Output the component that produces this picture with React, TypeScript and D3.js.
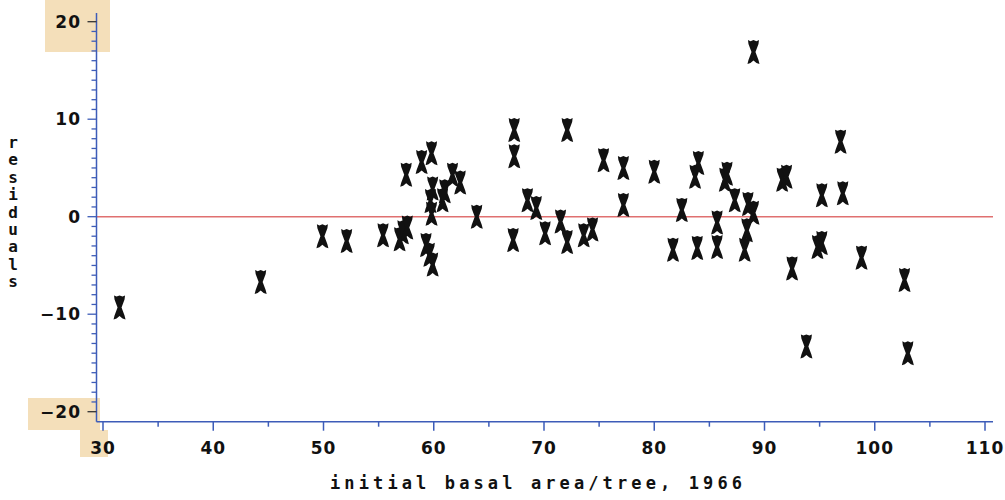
import React from "react";
import * as d3 from "d3";

const xValues: number[] = [
  31.5, 44.3, 49.9, 52.1, 55.4, 56.9, 57.2, 57.6, 57.5, 58.9,
  59.8, 59.9, 59.7, 59.8, 59.3, 59.6, 59.9, 61.0, 60.8, 61.7,
  62.4, 63.9, 67.3, 67.3, 67.2, 68.5, 69.3, 70.1, 71.5, 72.1,
  72.1, 73.6, 74.4, 75.4, 77.2, 77.2, 80.0, 82.5, 81.7, 83.9,
  83.7, 84.0, 85.7, 85.7, 86.4, 86.6, 87.3, 88.5, 89.0, 88.4,
  88.2, 89.0, 91.6, 92.0, 92.5, 93.8, 94.8, 95.2, 95.2, 96.9,
  97.1, 98.8, 102.7, 103.0,
];
const residuals: number[] = [
  -9.3, -6.7, -2.0, -2.5, -1.9, -2.3, -1.6, -1.1, 4.3, 5.6,
  6.5, 2.9, 1.6, 0.3, -2.9, -3.9, -4.9, 2.6, 1.7, 4.3,
  3.5, 0.0, 8.9, 6.2, -2.4, 1.7, 0.9, -1.7, -0.5, -2.6,
  8.9, -1.9, -1.3, 5.8, 5.0, 1.2, 4.6, 0.7, -3.4, -3.2,
  4.1, 5.5, -0.6, -3.1, 3.8, 4.4, 1.7, 1.3, 0.4, -1.4,
  -3.4, 16.9, 3.8, 4.1, -5.3, -13.3, -3.1, -2.7, 2.2, 7.7,
  2.4, -4.2, -6.5, -14.0,
];
const xTickLabels: number[] = [30, 40, 50, 60, 70, 80, 90, 100, 110];
const yTickLabels: number[] = [-20, -10, 0, 10, 20];
const yAxisLabel = "residuals";
const xAxisLabel = "initial basal area/tree, 1966";

const W = 1005;
const H = 500;

const x = d3.scaleLinear().domain([30, 110]).range([103, 985]);
const y = d3.scaleLinear().domain([-20, 20]).range([411.7, 21.7]);

const xDomainEnd = x.invert(993);
const xDomainStart = x.invert(96.5);
const yTop = y.invert(13);
const yBottom = y.invert(421.7);

const AXIS = "#3d5cb8";
const marker =
  "M-5.5,-12 L-3,-10.8 L0,-12 L3,-10.8 L5.5,-12 L5,-8 L2,0 L5,8 L6,12 L3,11 L0,8.5 L-3,11 L-6,12 L-5,8 L-2,0 L-5,-8 Z";

export default function App() {
  const minorY = d3.range(-20, 21, 1);
  const minorX = d3.range(35, 110, 10);
  const axisX0 = x(xDomainStart);
  const axisX1 = x(xDomainEnd);
  const axisYTop = y(yTop);
  const axisYBottom = y(yBottom);
  const pts = xValues.map((v, i) => [v, residuals[i]]);
  const labelFont = "'DejaVu Sans', 'Liberation Sans', sans-serif";
  return (
    <svg
      width={W}
      height={H}
      style={{ position: "absolute", left: 0, top: 0, background: "#fff" }}
    >
      {/* scan smudges */}
      <rect x={45} y={0} width={65} height={52} fill="#ecc98c" opacity={0.6} />
      <rect x={28} y={398} width={72} height={32} fill="#ecc98c" opacity={0.6} />
      <rect x={80} y={430} width={28} height={27} fill="#ecc98c" opacity={0.6} />

      {/* zero line */}
      <line
        x1={axisX0}
        x2={axisX1}
        y1={y(0)}
        y2={y(0)}
        stroke="#e07070"
        strokeWidth={1.6}
      />

      {/* y axis */}
      <line x1={axisX0} x2={axisX0} y1={axisYTop} y2={axisYBottom} stroke={AXIS} strokeWidth={1.5} />
      {minorY.map((v) => (
        <line
          key={"yt" + v}
          x1={axisX0 - (v % 10 === 0 ? 9 : 5)}
          x2={axisX0}
          y1={y(v)}
          y2={y(v)}
          stroke={v % 10 === 0 && Math.abs(v) === 20 ? "#333" : AXIS}
          strokeWidth={1.3}
        />
      ))}
      {yTickLabels.map((v) => (
        <text
          key={"yl" + v}
          x={81}
          y={y(v)}
          dy="0.36em"
          textAnchor="end"
          fontFamily={labelFont}
          fontWeight="bold"
          fontSize={17}
          letterSpacing={1}
          fill="#111"
        >
          {v < 0 ? "\u2212" + Math.abs(v) : String(v)}
        </text>
      ))}

      {/* x axis */}
      <line x1={axisX0} x2={axisX1} y1={axisYBottom} y2={axisYBottom} stroke={AXIS} strokeWidth={1.5} />
      {xTickLabels.map((v) => (
        <line
          key={"xt" + v}
          x1={x(v)}
          x2={x(v)}
          y1={axisYBottom}
          y2={axisYBottom + 9}
          stroke={AXIS}
          strokeWidth={1.5}
        />
      ))}
      {minorX.map((v) => (
        <line
          key={"xm" + v}
          x1={x(v)}
          x2={x(v)}
          y1={axisYBottom}
          y2={axisYBottom + 5}
          stroke={AXIS}
          strokeWidth={1.5}
        />
      ))}
      {xTickLabels.map((v) => (
        <text
          key={"xl" + v}
          x={x(v)}
          y={454}
          textAnchor="middle"
          fontFamily={labelFont}
          fontWeight="bold"
          fontSize={17}
          letterSpacing={1}
          fill="#111"
        >
          {String(v)}
        </text>
      ))}

      {/* axis titles */}
      <text
        x={330}
        y={489}
        textLength={412}
        lengthAdjust="spacing"
        fontFamily="'DejaVu Sans Mono', monospace"
        fontWeight="bold"
        fontSize={17}
        fill="#111"
      >
        {xAxisLabel}
      </text>
      {yAxisLabel.split("").map((ch, i) => (
        <text
          key={"yc" + i}
          x={13}
          y={148 + i * 17.4}
          textAnchor="middle"
          fontFamily="'DejaVu Sans Mono', monospace"
          fontWeight="bold"
          fontSize={16}
          fill="#111"
        >
          {ch}
        </text>
      ))}

      {/* points */}
      {pts.map(([a, b], i) => (
        <path key={"p" + i} d={marker} transform={`translate(${x(a)},${y(b)})`} fill="#111" />
      ))}
    </svg>
  );
}
